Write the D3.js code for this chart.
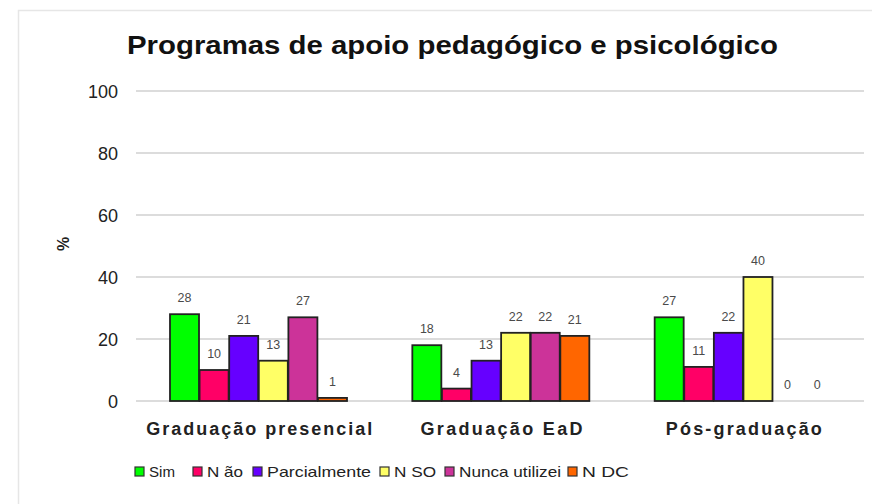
<!DOCTYPE html>
<html><head><meta charset="utf-8">
<script src="https://cdn.jsdelivr.net/npm/d3@7"></script>
<style>body{margin:0;background:#fff}svg{display:block}</style>
</head><body>
<svg id="c" width="872" height="504"></svg>
<script>
const categories = ["Graduação presencial", "Graduação EaD", "Pós-graduação"];
const seriesNames = ["Sim", "Não", "Parcialmente", "NSO", "Nunca utilizei", "NDC"];
const sim = [28, 18, 27];
const nao = [10, 4, 11];
const parcialmente = [21, 13, 22];
const nso = [13, 22, 40];
const nunca = [27, 22, 0];
const ndc = [1, 21, 0];
const yTicks = [0, 20, 40, 60, 80, 100];
const colors = ["#00ff00", "#ff0066", "#6600ff", "#ffff66", "#cc3399", "#ff6600"];
const legendLabels = ["Sim", "N ão", "Parcialmente", "N SO", "Nunca utilizei", "N DC"];

const seriesValues = [sim, nao, parcialmente, nso, nunca, ndc];
const svg = d3.select("#c");
const font = "Arial, 'Liberation Sans', sans-serif";

// frame
svg.append("path").attr("d", "M18.5,504 L18.5,10.5 L872,10.5").attr("fill", "none").attr("stroke", "#e6e6e6").attr("stroke-width", 1.5);

const x0 = d3.scaleBand().domain(categories).range([136, 863]).paddingInner(0).paddingOuter(0);
const x1 = d3.scaleBand().domain(seriesNames).range([34, 211]).paddingInner(0.02).paddingOuter(0);
const y = d3.scaleLinear().domain([0, 100]).range([401, 91]);

// grid
svg.append("g").selectAll("line").data(yTicks).join("line")
  .attr("x1", 136).attr("x2", 864).attr("y1", d => y(d)).attr("y2", d => y(d))
  .attr("stroke", "#dcdcdc").attr("stroke-width", 2);

// y axis labels
const yAxis = d3.axisLeft(y).tickValues(yTicks).tickSize(0).tickPadding(0);
const ga = svg.append("g").attr("transform", "translate(118,0)").call(yAxis);
ga.select(".domain").remove();
ga.selectAll("text").attr("font-family", font).attr("font-size", 18).attr("fill", "#222").attr("dy", "0.36em");

// title
svg.append("text").attr("x", 127).attr("y", 54)
  .attr("font-family", font).attr("font-weight", "bold").attr("font-size", 25).attr("fill", "#111")
  .attr("textLength", 651).attr("lengthAdjust", "spacingAndGlyphs")
  .text("Programas de apoio pedagógico e psicológico");

// y title
svg.append("text").attr("transform", "translate(69,244) rotate(-90)").attr("text-anchor", "middle")
  .attr("font-family", font).attr("font-weight", "bold").attr("font-size", 16).attr("fill", "#222").text("%");

// bars
const groups = svg.append("g").selectAll("g").data(categories).join("g")
  .attr("transform", d => `translate(${x0(d)},0)`);
groups.each(function(cat, ci) {
  const g = d3.select(this);
  seriesNames.forEach((s, si) => {
    const v = seriesValues[si][ci];
    const bx = x1(s);
    if (v > 0) {
      g.append("rect").attr("x", bx).attr("y", y(v)).attr("width", x1.bandwidth()).attr("height", y(0) - y(v))
        .attr("fill", colors[si]).attr("stroke", "#222").attr("stroke-width", 1.8);
    }
    g.append("text").attr("x", bx + x1.bandwidth() / 2).attr("y", y(v) - 12)
      .attr("text-anchor", "middle").attr("font-family", font).attr("font-size", 12.5).attr("fill", "#4a4a4a")
      .text(v);
  });
});

// category labels
const catWidths = [226, 162, 156];
svg.append("g").selectAll("text").data(categories).join("text")
  .attr("x", (d, i) => x0(d) + x0.bandwidth() / 2 - catWidths[i] / 2 + 2).attr("y", 435)
  .attr("font-family", font).attr("font-weight", "bold").attr("font-size", 18).attr("fill", "#222")
  .attr("textLength", (d, i) => catWidths[i]).attr("lengthAdjust", "spacing")
  .text(d => d);

// legend
const legendX = [135, 193, 253, 380, 445, 568];
const legendW = [26, 36, 104, 42, 102, 47];
const lg = svg.append("g").selectAll("g").data(seriesNames).join("g")
  .attr("transform", (d, i) => `translate(${legendX[i]},467)`);
lg.append("rect").attr("width", 9).attr("height", 9).attr("fill", (d, i) => colors[i]).attr("stroke", "#333").attr("stroke-width", 1.2);
lg.append("text").attr("x", 14).attr("y", 10).attr("font-family", font).attr("font-size", 15).attr("fill", "#222")
  .attr("textLength", (d, i) => legendW[i]).attr("lengthAdjust", "spacingAndGlyphs")
  .text((d, i) => legendLabels[i]);
</script>
</body></html>
